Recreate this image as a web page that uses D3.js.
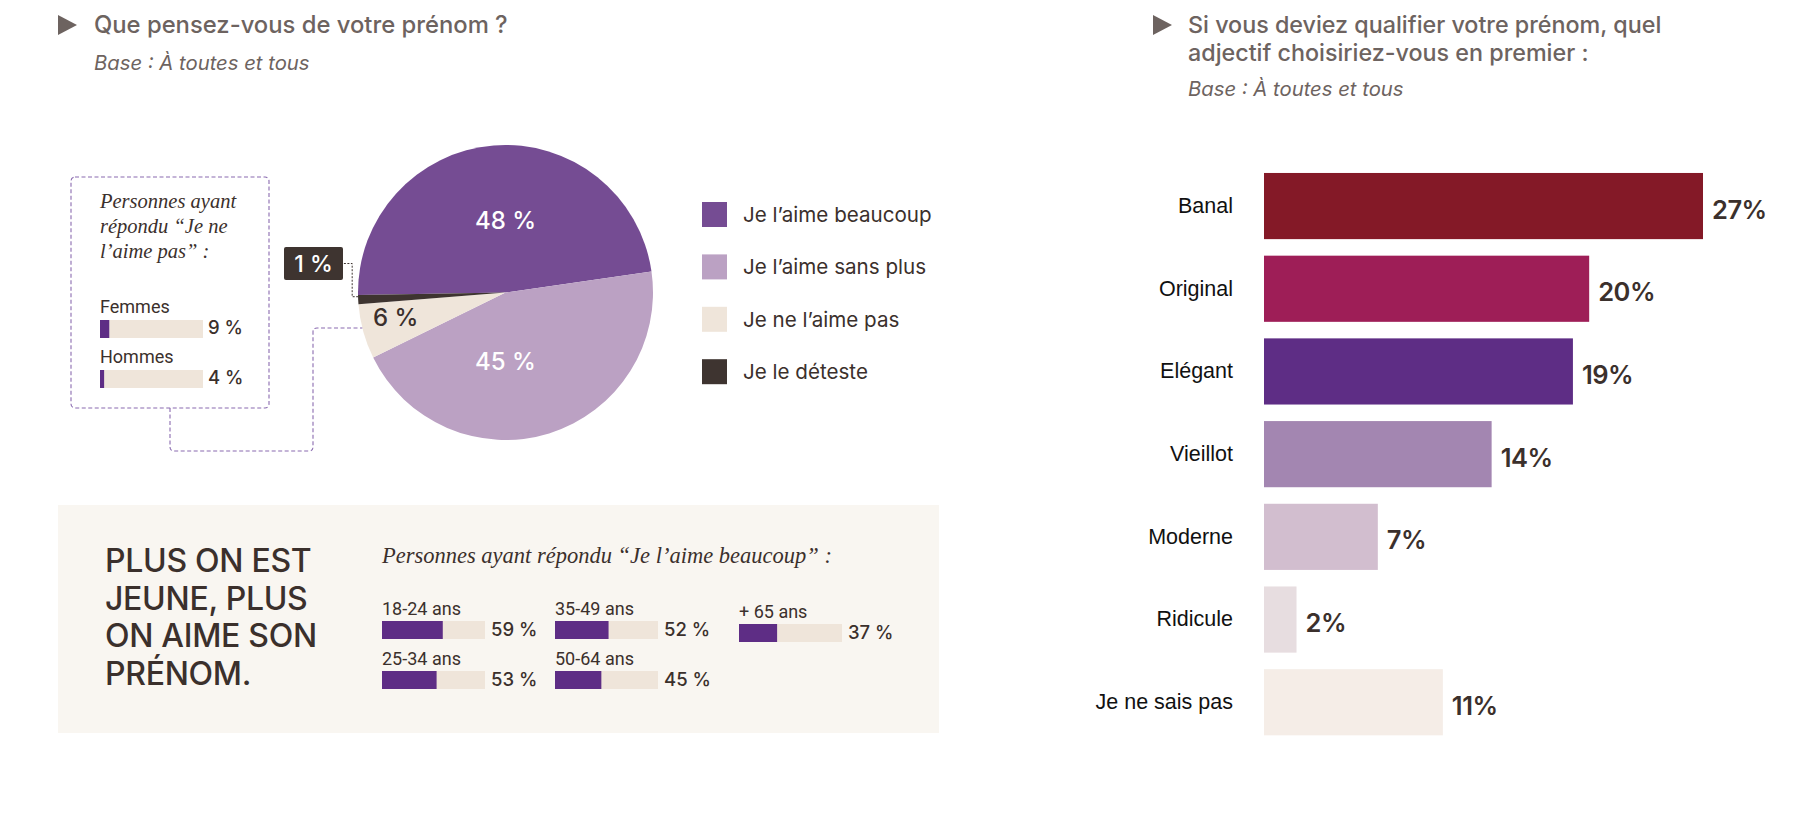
<!DOCTYPE html>
<html><head><meta charset="utf-8">
<script src="https://cdn.jsdelivr.net/npm/d3@7"></script>
<style>
body{margin:0;background:#fff;}
</style></head>
<body><svg id="c" width="1817" height="814" font-family="Inter, 'Open Sans', sans-serif"></svg>
<script>
// ---------- DATA ----------
const pieCategories = ["Je l’aime beaucoup","Je l’aime sans plus","Je ne l’aime pas","Je le déteste"];
const pieValues = [48,45,6,1];
const pieColors = ["#754C93","#BBA1C3","#EFE5DA","#3E3430"];
const genderLabels = ["Femmes","Hommes"];
const genderValues = [9,4];
const ageLabels = ["18-24 ans","25-34 ans","35-49 ans","50-64 ans","+ 65 ans"];
const ageValues = [59,53,52,45,37];
const adjCategories = ["Banal","Original","Elégant","Vieillot","Moderne","Ridicule","Je ne sais pas"];
const adjValues = [27,20,19,14,7,2,11];
const adjColors = ["#841927","#9E1E57","#5E2D85","#A386B1","#D2BECF","#E7DDE0","#F5EDE7"];

const svg = d3.select("#c");
const titleCol = "#6D6360", textCol = "#3B302C", purple = "#5E2D85", beige = "#EFE5DA";
const serif = "'Liberation Serif', 'DejaVu Serif', serif";
const roboto = "Roboto, sans-serif";

// ---------- TITLES ----------
function tri(x, y){
  svg.append("path").attr("d", `M${x},${y} L${x+19},${y+10} L${x},${y+20} Z`).attr("fill", titleCol);
}
tri(58, 15);
svg.append("text").attr("x",94).attr("y",33).attr("font-size",23.8).attr("font-weight",500).attr("fill",titleCol).text("Que pensez-vous de votre prénom ?");
svg.append("text").attr("x",94).attr("y",70).attr("font-size",20.3).attr("font-style","italic").attr("fill",titleCol).text("Base : À toutes et tous");
tri(1153, 15);
svg.append("text").attr("x",1188).attr("y",33).attr("font-size",23.3).attr("font-weight",500).attr("fill",titleCol).text("Si vous deviez qualifier votre prénom, quel");
svg.append("text").attr("x",1188).attr("y",61).attr("font-size",23.3).attr("font-weight",500).attr("fill",titleCol).text("adjectif choisiriez-vous en premier :");
svg.append("text").attr("x",1188).attr("y",96).attr("font-size",20.3).attr("font-style","italic").attr("fill",titleCol).text("Base : À toutes et tous");

// ---------- PIE ----------
const cx = 505.5, cy = 292.5, R = 147.5;
const a0 = -91 * Math.PI/180;
const pie = d3.pie().sort(null).startAngle(a0).endAngle(a0 + 2*Math.PI);
const arcs = pie(pieValues);
const arc = d3.arc().innerRadius(0).outerRadius(R);
const gp = svg.append("g").attr("transform", `translate(${cx},${cy})`);
gp.selectAll("path").data(arcs).join("path").attr("d", arc).attr("fill", (d,i)=>pieColors[i]);
arcs.forEach((d,i)=>{
  if (pieValues[i] < 5) return;
  const big = pieValues[i] > 20;
  const c = d3.arc().innerRadius(0).outerRadius(big ? 144 : 228).centroid(d);
  gp.append("text").attr("x", big ? 0 : c[0]).attr("y", c[1]+ (big?0:-5))
    .attr("text-anchor","middle").attr("dominant-baseline","central")
    .attr("font-size", 24).attr("font-weight", 500)
    .attr("fill", big ? "#fff" : textCol).text(pieValues[i] + " %");
});
// callout for smallest slice
const small = arcs[3];
const midA = (small.startAngle + small.endAngle)/2;
const px = cx + R*Math.sin(midA), py = cy - R*Math.cos(midA);
svg.append("path").attr("d", `M${px},${py-3} H${px-6} V${cy-29} H343`).attr("fill","none")
  .attr("stroke","#3E3430").attr("stroke-width",1).attr("stroke-dasharray","2,1.5");
svg.append("rect").attr("x",284).attr("y",cy-45.5).attr("width",59).attr("height",33).attr("rx",2).attr("fill","#3E3430");
svg.append("text").attr("x",313.5).attr("y",cy-29).attr("text-anchor","middle").attr("dominant-baseline","central")
  .attr("font-size",23).attr("font-weight",500).attr("fill","#fff").text(pieValues[3] + " %");

// dashed box for "Je ne l'aime pas"
const dash = "#8A6BB0";
svg.append("rect").attr("x",71).attr("y",177).attr("width",198).attr("height",231).attr("rx",4)
  .attr("fill","none").attr("stroke",dash).attr("stroke-width",1.1).attr("stroke-dasharray","4,2.5");
const ly = 328, lx = cx - Math.sqrt(R*R - (ly-cy)*(ly-cy));
svg.append("path").attr("d", `M170,408 V447 Q170,451 174,451 H309 Q313,451 313,447 V${ly+4} Q313,${ly} 317,${ly} H${lx}`)
  .attr("fill","none").attr("stroke",dash).attr("stroke-width",1.1).attr("stroke-dasharray","4,2.5");
["Personnes ayant","répondu “Je ne","l’aime pas” :"].forEach((t,i)=>{
  svg.append("text").attr("x",100).attr("y",208+25*i).attr("font-family",serif).attr("font-style","italic")
    .attr("font-size",20.5).attr("fill",textCol).text(t);
});
const gx = d3.scaleLinear().domain([0,100]).range([0,103]);
genderLabels.forEach((lab,i)=>{
  const y0 = 320 + 50*i;
  svg.append("text").attr("x",100).attr("y",y0-7).attr("font-family",roboto).attr("font-size",18).attr("fill",textCol).text(lab);
  svg.append("rect").attr("x",100).attr("y",y0).attr("width",gx(100)).attr("height",18).attr("fill",beige);
  svg.append("rect").attr("x",100).attr("y",y0).attr("width",gx(genderValues[i])).attr("height",18).attr("fill",purple);
  svg.append("text").attr("x",208).attr("y",y0+14).attr("font-size",18.5).attr("font-weight",500).attr("fill",textCol).text(genderValues[i]+" %");
});

// legend
pieCategories.forEach((c,i)=>{
  const y0 = 202 + 52.4*i;
  svg.append("rect").attr("x",702).attr("y",y0).attr("width",25).attr("height",25).attr("fill",pieColors[i]);
  svg.append("text").attr("x",743).attr("y",y0+12.5).attr("dominant-baseline","central").attr("font-size",20.6).attr("fill",textCol).text(c);
});

// ---------- BOTTOM PANEL ----------
svg.append("rect").attr("x",58).attr("y",505).attr("width",881).attr("height",228).attr("fill","#F9F6F1");
["PLUS ON EST","JEUNE, PLUS","ON AIME SON","PRÉNOM."].forEach((t,i)=>{
  svg.append("text").attr("x",105).attr("y",572+37.7*i).attr("font-size",32).attr("font-weight",500)
    .attr("letter-spacing","-0.3").attr("fill",textCol).text(t);
});
svg.append("text").attr("x",382).attr("y",563).attr("font-family",serif).attr("font-style","italic")
  .attr("font-size",22.5).attr("fill",textCol).text("Personnes ayant répondu “Je l’aime beaucoup” :");
const colX = [382, 555, 739];
const ax = d3.scaleLinear().domain([0,100]).range([0,103]);
ageLabels.forEach((lab,i)=>{
  const col = Math.floor(i/2), row = i%2;
  const x0 = colX[col], y0 = 621 + 50*row + (col===2 ? 3 : 0);
  svg.append("text").attr("x",x0).attr("y",y0-6).attr("font-family",roboto).attr("font-size",18).attr("fill",textCol).text(lab);
  svg.append("rect").attr("x",x0).attr("y",y0).attr("width",ax(100)).attr("height",18).attr("fill",beige);
  svg.append("rect").attr("x",x0).attr("y",y0).attr("width",ax(ageValues[i])).attr("height",18).attr("fill",purple);
  svg.append("text").attr("x",x0+ax(100)+6).attr("y",y0+15).attr("font-size",18.5).attr("font-weight",500).attr("fill",textCol).text(ageValues[i]+" %");
});

// ---------- BAR CHART ----------
const x = d3.scaleLinear().domain([0,27]).range([1264,1703]);
const y = d3.scaleBand().domain(adjCategories).range([164.7,743.6]).paddingInner(0.2).paddingOuter(0.1);
const gb = svg.append("g");
gb.selectAll("rect").data(adjValues).join("rect")
  .attr("x", x(0)).attr("y",(d,i)=>y(adjCategories[i]))
  .attr("width", d=>x(d)-x(0)).attr("height", y.bandwidth())
  .attr("fill",(d,i)=>adjColors[i]);
const yAxis = d3.axisLeft(y).tickSize(0).tickPadding(0);
const ga = svg.append("g").attr("transform",`translate(1233,0)`).call(yAxis);
ga.select(".domain").remove();
ga.attr("font-family",null).attr("font-size",null);
ga.selectAll("text").style("font-family","'Liberation Sans', Arial, sans-serif").style("font-size","21.5px").attr("fill","#111").attr("dy","0.32em");
gb.selectAll("text").data(adjValues).join("text")
  .attr("x", d=>x(d)+9).attr("y",(d,i)=>y(adjCategories[i])+y.bandwidth()/2+3)
  .attr("dominant-baseline","central").attr("font-size",25.5).attr("font-weight",600)
  .attr("letter-spacing","-0.5").attr("fill",textCol).text(d=>d+"%");
</script>
</body></html>
